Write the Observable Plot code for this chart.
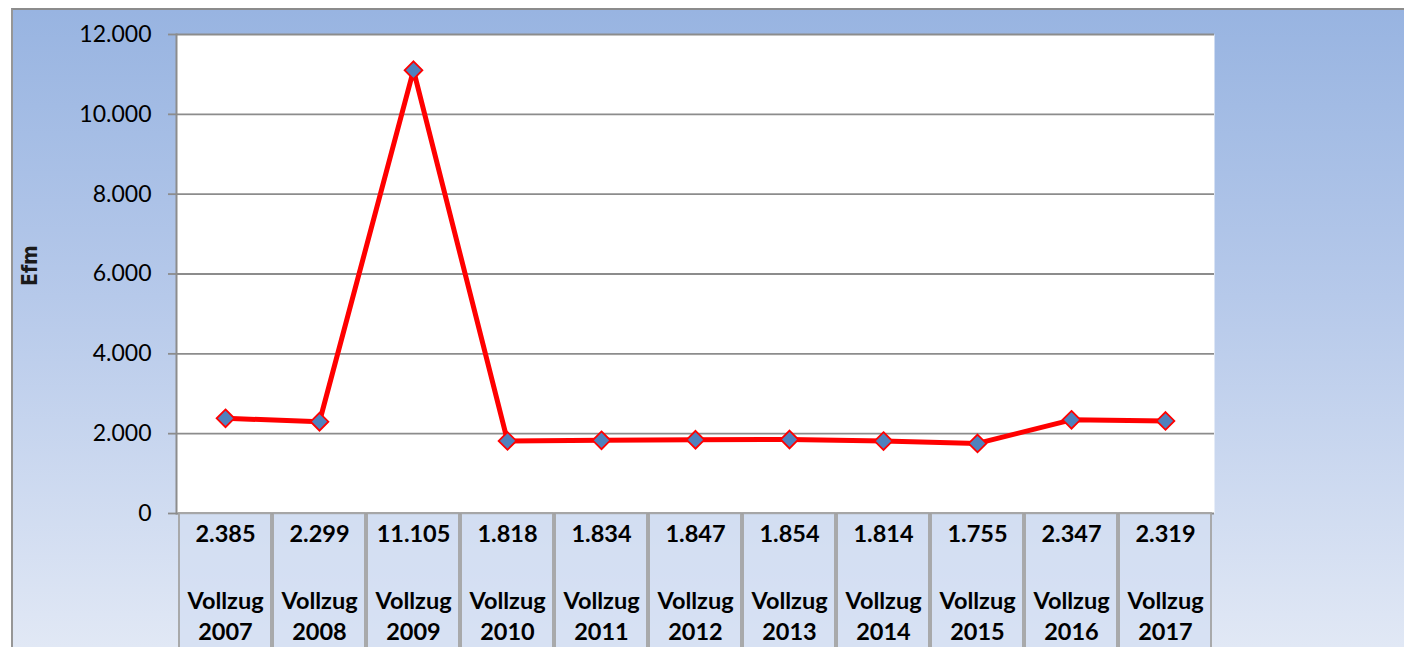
<!DOCTYPE html>
<html>
<head>
<meta charset="utf-8">
<script src="https://cdn.jsdelivr.net/npm/d3@7"></script>
<script src="https://cdn.jsdelivr.net/npm/@observablehq/plot@0.6"></script>
<style>
  html, body { margin: 0; padding: 0; background: #ffffff; }
  #wrap { position: relative; width: 1404px; height: 647px; overflow: hidden; }
  #bg {
    position: absolute; left: 11px; top: 8px; right: 0; bottom: 0;
    border-left: 2px solid #969696; border-top: 2px solid #8c8c8c;
    background: linear-gradient(to bottom, #98b4e1 0%, #b6c9ea 45%, #e1e8f5 100%);
  }
  #chart { position: absolute; left: 0; top: 0; }
  #chart svg { background: transparent !important; overflow: visible; }
</style>
</head>
<body>
<div id="wrap"><div id="bg"></div><div id="chart"></div></div>
<script>
const years = ["2007","2008","2009","2010","2011","2012","2013","2014","2015","2016","2017"];
const values = [2385, 2299, 11105, 1818, 1834, 1847, 1854, 1814, 1755, 2347, 2319];
const valueLabels = ["2.385","2.299","11.105","1.818","1.834","1.847","1.854","1.814","1.755","2.347","2.319"];
const yTicks = [0, 2000, 4000, 6000, 8000, 10000, 12000];
const yLabel = "Efm";
const rowPrefix = "Vollzug";
const tableDepth = -3400;

const data = years.map((y, i) => ({year: y, value: values[i], label: valueLabels[i]}));
const fmt = d => d === 0 ? "0" : d3.format(",")(d).replace(/,/g, ".");
const font = "Lato, 'Open Sans', sans-serif";

const chart = Plot.plot({
  width: 1404,
  height: 647,
  marginLeft: 176,
  marginRight: 190,
  marginTop: 34,
  marginBottom: 134,
  style: {fontFamily: font, background: "transparent", color: "#000"},
  x: {domain: years, padding: 0, axis: null},
  y: {domain: [0, 12000], axis: null},
  marks: [
    Plot.frame({fill: "white", stroke: null}),
    Plot.ruleY(yTicks, {stroke: "#8c8c8c", strokeWidth: 1.8}),
    Plot.frame({anchor: "left", stroke: "#8c8c8c", strokeWidth: 2}),
    Plot.axisY({ticks: yTicks, tickSize: 8, tickPadding: 17, tickFormat: fmt, fontSize: 23,
      stroke: "#8c8c8c", strokeWidth: 1.8, fill: "#000", label: null}),
    Plot.barY(data, {x: "year", y1: 0, y2: tableDepth, fill: "#d3def2", fillOpacity: 0.7,
      stroke: "#a3a3a3", strokeWidth: 1.8, insetLeft: 1, insetRight: 1}),
    Plot.text(data, {x: "year", y: 0, text: "label", dy: 21, fontSize: 23.5, fontWeight: "bold", fill: "#000"}),
    Plot.text(data, {x: "year", y: 0, text: () => rowPrefix, dy: 88, fontSize: 23.5, fontWeight: "bold", fill: "#000"}),
    Plot.text(data, {x: "year", y: 0, text: "year", dy: 119, fontSize: 23.5, fontWeight: "bold", fill: "#000"}),
    Plot.line(data, {x: "year", y: "value", stroke: "#ff0000", strokeWidth: 5, strokeLinejoin: "round"}),
    Plot.dot(data, {x: "year", y: "value", symbol: "diamond2", r: 8, fill: "#4f81bd", stroke: "#ff0000", strokeWidth: 1.8}),
    Plot.text([yLabel], {frameAnchor: "left", dx: -146, dy: 12, rotate: -90, fontSize: 21,
      fontWeight: "bold", fill: "#1a1a1a", fontFamily: "'DejaVu Sans Condensed', 'Liberation Sans Narrow', sans-serif"})
  ]
});
document.getElementById("chart").appendChild(chart);
</script>
</body>
</html>
